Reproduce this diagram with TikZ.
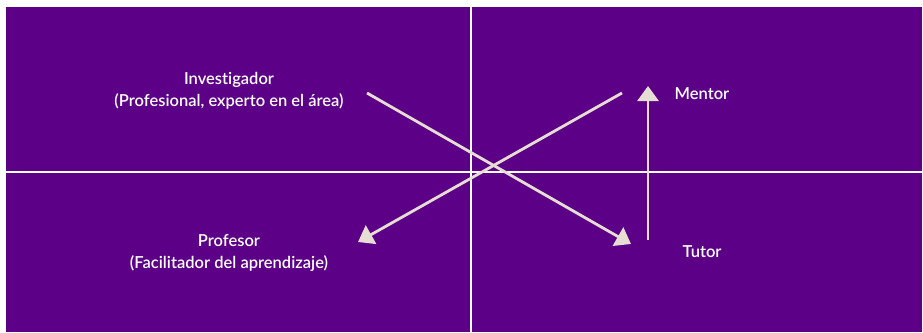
\documentclass[tikz,border=0pt]{standalone}
\usepackage{fontspec}
\setmainfont{Lato}[UprightFont={* Semibold},Ligatures=NoCommon]
\usetikzlibrary{arrows.meta}
\definecolor{bgpurple}{HTML}{5D0088}
\definecolor{cream}{HTML}{E6DED2}
\tikzset{
  lbl/.style={text=white, align=center, font=\fontsize{16.5}{22}\selectfont, inner sep=0pt},
  arr/.style={draw=cream, line width=2.8pt, -{Triangle[width=21pt,length=15pt]}, fill=cream},
  axis/.style={draw=white, line width=2pt}
}
\begin{document}
\begin{tikzpicture}[x=1pt,y=-1pt]
\useasboundingbox (0,0) rectangle (923,332);
\fill[white] (0,0) rectangle (923,332);
\fill[bgpurple] (6,7) rectangle (922,332);
\coordinate (vt) at (471,7);
\coordinate (vb) at (471,332);
\coordinate (hl) at (6,172);
\coordinate (hr) at (922,172);
\draw[axis] (vt) -- (vb);
\draw[axis] (hl) -- (hr);
\node[lbl] (inv) at (229,91) {Investigador\\(Profesional, experto en el área)};
\node[lbl] (prof) at (229,253) {Profesor\\(Facilitador del aprendizaje)};
\node[lbl] (ment) at (702,94) {Mentor};
\node[lbl] (tut) at (702,252) {Tutor};
\coordinate (a1s) at (367,93);
\coordinate (a1e) at (631,244);
\coordinate (a2s) at (622,93);
\coordinate (a2e) at (358,242);
\coordinate (a3s) at (648,240);
\coordinate (a3e) at (648,86);
\draw[arr] (a1s) -- (a1e);
\draw[arr] (a2s) -- (a2e);
\draw[arr] (a3s) -- (a3e);
\end{tikzpicture}
\end{document}
